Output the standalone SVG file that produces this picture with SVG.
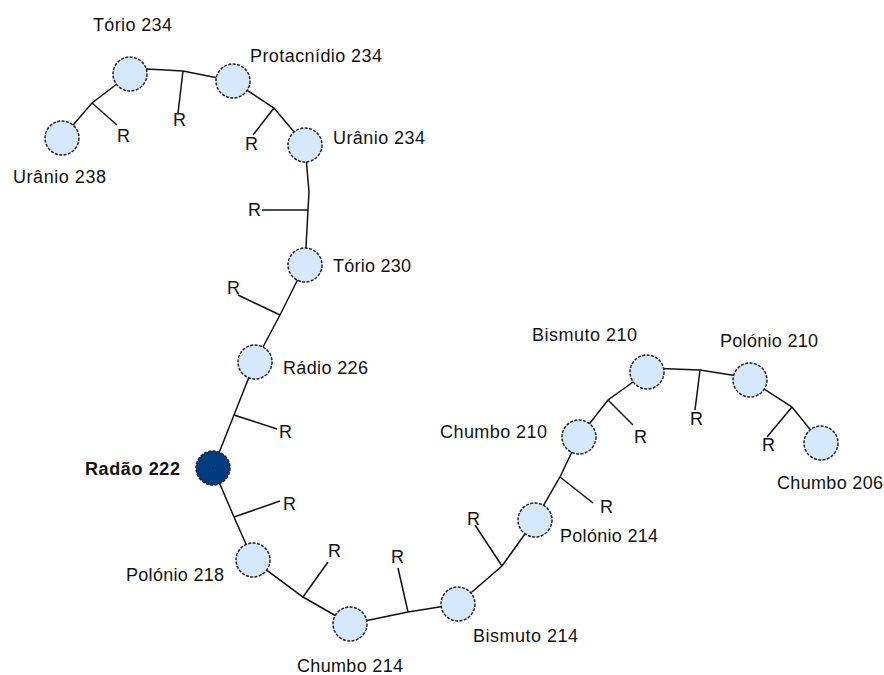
<svg xmlns="http://www.w3.org/2000/svg" width="884" height="675" viewBox="0 0 884 675">
<style>
.n{fill:#d6e8fc;stroke:#222;stroke-width:1.5;stroke-dasharray:3 1.4}
.d{fill:#003c80;stroke:#222;stroke-width:1.5;stroke-dasharray:3 1.4}
.c polyline,.c line{fill:none;stroke:#111;stroke-width:1.5}
text{font-family:"Liberation Sans",Arial,sans-serif;font-size:18px;fill:#111}
.b{font-weight:bold}
</style>
<rect width="884" height="675" fill="#fff"/>
<g id="connectors" class="c">
<polyline points="62,138 92,103 130,74"/><line x1="92" y1="103" x2="117" y2="125"/>
<polyline points="130,74 147,69 183,71 233,81"/><line x1="183" y1="71" x2="178" y2="113"/>
<polyline points="233,81 274,108 305,145"/><line x1="274" y1="108" x2="253" y2="135"/>
<polyline points="305,145 309,192 308,210 305,265"/><line x1="308" y1="210" x2="262" y2="210"/>
<polyline points="305,265 280,315 255,362"/><line x1="280" y1="315" x2="238" y2="295"/>
<polyline points="255,362 234,415 213,468"/><line x1="234" y1="415" x2="277" y2="429"/>
<polyline points="213,468 234,517 253,560"/><line x1="234" y1="517" x2="280" y2="501"/>
<polyline points="253,560 303,597 350,624"/><line x1="303" y1="597" x2="328" y2="562"/>
<polyline points="350,624 408,612 458,604"/><line x1="408" y1="612" x2="398" y2="568"/>
<polyline points="458,604 502,566 535,520"/><line x1="502" y1="566" x2="475" y2="525"/>
<polyline points="535,520 560,477 579,437"/><line x1="560" y1="477" x2="593" y2="503"/>
<polyline points="579,437 608,400 647,372"/><line x1="608" y1="400" x2="633" y2="425"/>
<polyline points="647,368 700,370 750,378"/><line x1="700" y1="370" x2="695" y2="410"/>
<polyline points="750,380 792,407 821,443"/><line x1="792" y1="407" x2="767" y2="437"/>
</g>
<g id="labels-R">
<text x="117" y="142">R</text>
<text x="173" y="126">R</text>
<text x="245" y="150">R</text>
<text x="248" y="216">R</text>
<text x="227" y="294">R</text>
<text x="279" y="438">R</text>
<text x="283" y="510">R</text>
<text x="328" y="557">R</text>
<text x="391" y="563">R</text>
<text x="467" y="525">R</text>
<text x="600" y="513">R</text>
<text x="634" y="443">R</text>
<text x="690" y="425">R</text>
<text x="762" y="451">R</text>
</g>
<g id="u238"><circle class="n" cx="62" cy="138" r="17"/><text x="13" y="183" textLength="93">Urânio 238</text></g>
<g id="th234"><circle class="n" cx="130" cy="74" r="17"/><text x="93" y="31" textLength="79">Tório 234</text></g>
<g id="pa234"><circle class="n" cx="233" cy="81" r="17"/><text x="250" y="62" textLength="132">Protacnídio 234</text></g>
<g id="u234"><circle class="n" cx="305" cy="145" r="17"/><text x="333" y="144" textLength="92">Urânio 234</text></g>
<g id="th230"><circle class="n" cx="305" cy="265" r="17"/><text x="333" y="272" textLength="78">Tório 230</text></g>
<g id="ra226"><circle class="n" cx="255" cy="362" r="17"/><text x="283" y="374" textLength="85">Rádio 226</text></g>
<g id="rn222"><circle class="d" cx="213" cy="468" r="17"/><circle cx="213" cy="468" r="0.8" fill="#000"/><text class="b" x="85" y="475" textLength="95">Radão 222</text></g>
<g id="po218"><circle class="n" cx="253" cy="560" r="17"/><text x="126" y="581" textLength="98">Polónio 218</text></g>
<g id="pb214"><circle class="n" cx="350" cy="624" r="17"/><text x="297" y="672" textLength="106">Chumbo 214</text></g>
<g id="bi214"><circle class="n" cx="458" cy="604" r="17"/><text x="473" y="642" textLength="105">Bismuto 214</text></g>
<g id="po214"><circle class="n" cx="535" cy="520" r="17"/><text x="560" y="542" textLength="98">Polónio 214</text></g>
<g id="pb210"><circle class="n" cx="579" cy="437" r="17"/><text x="440" y="438" textLength="107">Chumbo 210</text></g>
<g id="bi210"><circle class="n" cx="647" cy="372" r="17"/><text x="532" y="341" textLength="105">Bismuto 210</text></g>
<g id="po210"><circle class="n" cx="750" cy="380" r="17"/><text x="720" y="347" textLength="98">Polónio 210</text></g>
<g id="pb206"><circle class="n" cx="821" cy="443" r="17"/><text x="777" y="489" textLength="106">Chumbo 206</text></g>
</svg>
